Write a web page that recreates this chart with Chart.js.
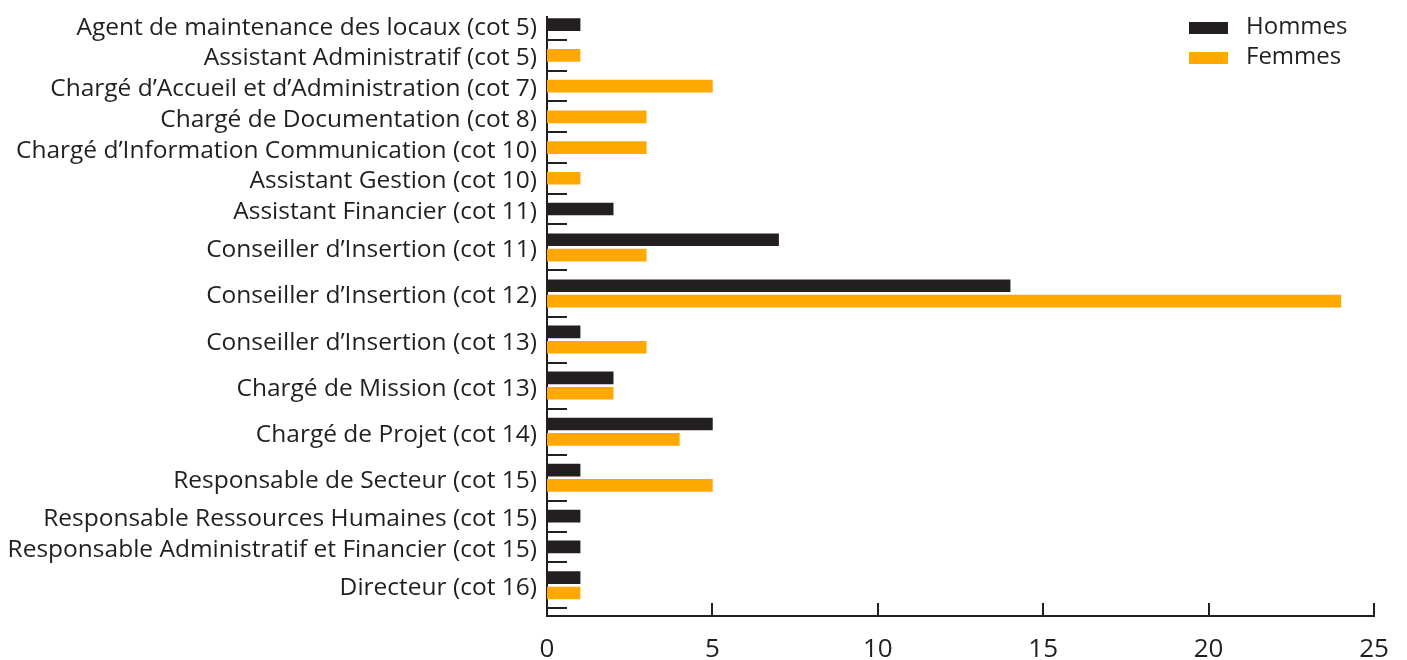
<!DOCTYPE html>
<html>
<head>
<meta charset="utf-8">
<script src="https://cdn.jsdelivr.net/npm/chart.js@4.4.1/dist/chart.umd.min.js"></script>
<style>
  html, body { margin: 0; padding: 0; background: #fff; }
  #chart-container { width: 1407px; height: 660px; }
</style>
</head>
<body>
<div id="chart-container"><canvas id="chart"></canvas></div>
<script>
const categories = [
  'Agent de maintenance des locaux (cot 5)',
  'Assistant Administratif (cot 5)',
  'Chargé d’Accueil et d’Administration (cot 7)',
  'Chargé de Documentation (cot 8)',
  'Chargé d’Information Communication (cot 10)',
  'Assistant Gestion (cot 10)',
  'Assistant Financier (cot 11)',
  'Conseiller d’Insertion (cot 11)',
  'Conseiller d’Insertion (cot 12)',
  'Conseiller d’Insertion (cot 13)',
  'Chargé de Mission (cot 13)',
  'Chargé de Projet (cot 14)',
  'Responsable de Secteur (cot 15)',
  'Responsable Ressources Humaines (cot 15)',
  'Responsable Administratif et Financier (cot 15)',
  'Directeur (cot 16)'
];
const hommes = [1, 0, 0, 0, 0, 0, 2, 7, 14, 1, 2, 5, 1, 1, 1, 1];
const femmes = [0, 1, 5, 3, 3, 1, 0, 3, 24, 3, 2, 4, 5, 0, 0, 1];
const xTicks = [0, 5, 10, 15, 20, 25];
const seriesNames = ['Hommes', 'Femmes'];
const hexColors = ['#231f20', '#ffa800'];
const fontFamily = '"Open Sans", sans-serif';

// one row per drawn bar, then an empty row closing each category
let slot = 0;
const hommesPts = [];
const femmesPts = [];
const labelPos = [];
const gapPos = [];
categories.forEach((c, i) => {
  const first = slot;
  if (hommes[i]) hommesPts.push({ x: hommes[i], y: slot++ });
  if (femmes[i]) femmesPts.push({ x: femmes[i], y: slot++ });
  labelPos.push((first + slot - 1) / 2);
  gapPos.push(slot++);
});

// small tick marks pointing inside the plot
const innerTicks = {
  id: 'innerTicks',
  afterDraw(chart) {
    const { ctx, scales: { x, y }, chartArea } = chart;
    ctx.save();
    ctx.strokeStyle = hexColors[0];
    ctx.lineWidth = 2;
    ctx.beginPath();
    gapPos.forEach((v) => {
      const py = Math.round(y.getPixelForValue(v));
      ctx.moveTo(chartArea.left, py);
      ctx.lineTo(chartArea.left + 20, py);
    });
    xTicks.forEach((v) => {
      const px = Math.round(x.getPixelForValue(v));
      ctx.moveTo(px, chartArea.bottom);
      ctx.lineTo(px, chartArea.bottom - 13);
    });
    ctx.stroke();
    ctx.restore();
  }
};

const cornerLegend = {
  id: 'cornerLegend',
  afterDraw(chart) {
    const { ctx } = chart;
    ctx.save();
    ctx.font = '24px ' + fontFamily;
    ctx.textBaseline = 'middle';
    seriesNames.forEach((name, i) => {
      const top = 22 + i * 30;
      ctx.fillStyle = hexColors[i];
      ctx.fillRect(1189, top, 39, 12);
      ctx.fillStyle = '#231f20';
      ctx.fillText(name, 1246, top + 5);
    });
    ctx.restore();
  }
};

const noEdgePadding = (scale) => {
  scale.paddingTop = 0;
  scale.paddingBottom = 0;
  scale.paddingLeft = 0;
  scale.paddingRight = 0;
};

new Chart(document.getElementById('chart').getContext('2d'), {
  type: 'bar',
  data: {
    datasets: [
      { label: seriesNames[0], data: hommesPts, backgroundColor: hexColors[0], barThickness: 12, grouped: false },
      { label: seriesNames[1], data: femmesPts, backgroundColor: hexColors[1], barThickness: 12, grouped: false }
    ]
  },
  options: {
    indexAxis: 'y',
    responsive: true,
    maintainAspectRatio: false,
    animation: false,
    layout: { padding: { top: 17, right: 33, left: 0, bottom: 0 } },
    plugins: { legend: { display: false }, tooltip: { enabled: false } },
    scales: {
      x: {
        type: 'linear',
        min: 0,
        max: 25,
        afterBuildTicks: (scale) => { scale.ticks = xTicks.map((v) => ({ value: v })); },
        afterFit: (scale) => { scale.height = 44; noEdgePadding(scale); },
        grid: { display: false, drawTicks: false },
        border: { display: true, color: hexColors[0], width: 2 },
        ticks: { padding: 18, color: '#231f20', font: { family: fontFamily, size: 26 } }
      },
      y: {
        type: 'linear',
        reverse: true,
        offset: false,
        min: -0.5,
        max: slot - 0.5,
        afterBuildTicks: (scale) => { scale.ticks = labelPos.map((v) => ({ value: v })); },
        afterFit: (scale) => { scale.width = 547; noEdgePadding(scale); },
        grid: { display: false, drawTicks: false, offset: false },
        border: { display: true, color: hexColors[0], width: 2 },
        ticks: {
          autoSkip: false,
          padding: 10,
          labelOffset: 3,
          color: '#231f20',
          font: { family: fontFamily, size: 24.5 },
          callback: (value, index) => categories[index]
        }
      }
    }
  },
  plugins: [innerTicks, cornerLegend]
});
</script>
</body>
</html>
